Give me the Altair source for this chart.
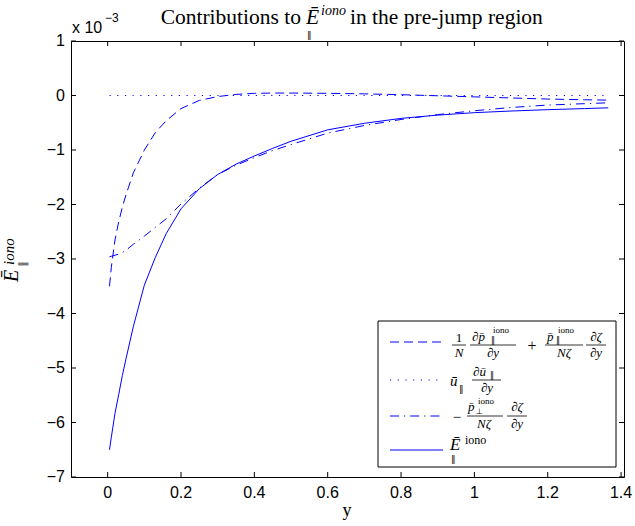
import altair as alt
import pandas as pd

# ---------------- data (values in units of 1e-3) ----------------
xs = [0.005, 0.01, 0.02, 0.03, 0.04, 0.05, 0.07, 0.1, 0.13, 0.16, 0.2, 0.25, 0.3,
      0.35, 0.4, 0.45, 0.5, 0.6, 0.7, 0.8, 0.9, 1.0, 1.1, 1.2, 1.3, 1.365]
dashed = [-3.5, -3.15, -2.65, -2.32, -2.05, -1.82, -1.42, -1.0, -0.68, -0.46, -0.24, -0.09, -0.02,
          0.02, 0.04, 0.045, 0.045, 0.04, 0.03, 0.015, -0.005, -0.025, -0.045, -0.065, -0.078, -0.085]
dotted = [0.0, 0.0, 0.0, 0.0, 0.0, 0.0, 0.0, 0.0, 0.0, 0.0, 0.0, 0.0, 0.0,
          0.0, 0.0, 0.0, 0.0, 0.0, 0.0, 0.0, 0.0, 0.0, 0.0, 0.0, 0.0, 0.0]
dashdot = [-2.96, -2.95, -2.93, -2.91, -2.88, -2.84, -2.73, -2.58, -2.42, -2.26, -1.99, -1.70, -1.45,
           -1.28, -1.14, -1.01, -0.90, -0.69, -0.55, -0.44, -0.35, -0.28, -0.22, -0.175, -0.15, -0.134]
solid = [-6.5, -6.27, -5.83, -5.49, -5.14, -4.83, -4.24, -3.48, -2.97, -2.53, -2.08, -1.71, -1.45,
         -1.26, -1.11, -0.97, -0.84, -0.63, -0.51, -0.42, -0.36, -0.315, -0.285, -0.26, -0.24, -0.226]
series_names = ["dpar", "udu", "pperp", "E"]
xticks = [0, 0.2, 0.4, 0.6, 0.8, 1, 1.2, 1.4]
xtick_labels = ["0", "0.2", "0.4", "0.6", "0.8", "1", "1.2", "1.4"]
yticks = [-7, -6, -5, -4, -3, -2, -1, 0, 1]
ytick_labels = ["\u22127", "\u22126", "\u22125", "\u22124", "\u22123", "\u22122", "\u22121", "0", "1"]

rows = []
for name, vals in zip(series_names, [dashed, dotted, dashdot, solid]):
    for x, v in zip(xs, vals):
        rows.append({"x": x, "v": v, "s": name})
df = pd.DataFrame(rows)

# ---------------- layout ----------------
W, H = 553, 436
OX, OY = 71, 41
BLUE = "#0000ff"
SERIF = "Liberation Serif"
SANS = "Liberation Sans"
xscale = alt.Scale(domain=[-0.1, 1.408], nice=False, zero=False)
yscale = alt.Scale(domain=[-7, 1], nice=False, zero=False)
styles = {"dpar": [9, 5], "udu": [1.2, 6.5], "pperp": [9, 5, 1.2, 5], "E": None}

layers = []
for name in series_names:
    kw = dict(color=BLUE, strokeWidth=1, clip=True)
    if styles[name]:
        kw["strokeDash"] = styles[name]
    layers.append(
        alt.Chart(df).transform_filter(alt.datum.s == name).mark_line(**kw).encode(
            x=alt.X("x:Q", scale=xscale, axis=None),
            y=alt.Y("v:Q", scale=yscale, axis=None),
        )
    )

# inward ticks on all four sides, and tick labels
xt = pd.DataFrame({"t": xticks, "lab": xtick_labels})
yt = pd.DataFrame({"t": yticks, "lab": ytick_labels})
for y0, y1 in [(H, H - 5), (0, 5)]:
    layers.append(alt.Chart(xt).mark_rule(color="black", strokeWidth=1).encode(
        x=alt.X("t:Q", scale=xscale, axis=None), y=alt.value(y0), y2=alt.value(y1)))
for x0, x1 in [(0, 5), (W, W - 5)]:
    layers.append(alt.Chart(yt).mark_rule(color="black", strokeWidth=1).encode(
        y=alt.Y("t:Q", scale=yscale, axis=None), x=alt.value(x0), x2=alt.value(x1)))
layers.append(alt.Chart(xt).mark_text(font=SANS, fontSize=16, baseline="top", align="center",
                                      color="black").encode(
    x=alt.X("t:Q", scale=xscale, axis=None), y=alt.value(H + 8), text="lab:N"))
layers.append(alt.Chart(yt).mark_text(font=SANS, fontSize=16, baseline="middle", align="right",
                                      color="black").encode(
    y=alt.Y("t:Q", scale=yscale, axis=None), x=alt.value(-6), text="lab:N"))

one = pd.DataFrame({"a": [0]})


def txt(s, x, y, size=13, italic=False, align="center", baseline="middle", angle=0, font=SERIF):
    kw = dict(text=s, fontSize=size, font=font, fontStyle="italic" if italic else "normal",
              align=align, baseline=baseline, color="black")
    if angle:
        kw["angle"] = angle
    return alt.Chart(one).mark_text(**kw).encode(x=alt.value(x - OX), y=alt.value(y - OY))


def par(x, y, size=10, align="left", baseline="middle", angle=0):
    # double vertical bar subscript, drawn with DejaVu Sans (which has the glyph)
    return txt("\u2016", x, y, size=size, align=align, baseline=baseline, angle=angle,
               font="DejaVu Sans")


def bar(x1, x2, y):
    return alt.Chart(one).mark_rule(color="black", strokeWidth=0.8).encode(
        x=alt.value(x1 - OX), x2=alt.value(x2 - OX), y=alt.value(y - OY))


def sample(y, dash):
    kw = dict(color=BLUE, strokeWidth=1)
    if dash:
        kw["strokeDash"] = dash
    return alt.Chart(one).mark_rule(**kw).encode(
        x=alt.value(390 - OX), x2=alt.value(443 - OX), y=alt.value(y - OY))


# legend box
layers.append(alt.Chart(one).mark_rect(fill="white", stroke="black", strokeWidth=1).encode(
    x=alt.value(378 - OX), x2=alt.value(616 - OX), y=alt.value(321 - OY), y2=alt.value(467 - OY)))
layers += [sample(342, styles["dpar"]), sample(380, styles["udu"]),
           sample(416, styles["pperp"]), sample(450, None)]

# row 1 : 1/N dp/dy + p/(N zeta) dzeta/dy
layers += [
    txt("1", 459, 338), bar(452, 466, 345), txt("N", 459, 353, italic=True),
    txt("\u2202p\u0304", 472, 337, italic=True, align="left"),
    txt("iono", 493, 330, size=9, align="left"), par(491, 341, size=8),
    bar(470, 516, 345), txt("\u2202y", 493, 353, italic=True),
    txt("+", 532, 346, size=16),
    txt("p\u0304", 547, 337, italic=True, align="left"),
    txt("iono", 558, 330, size=9, align="left"), par(556, 341, size=8),
    bar(545, 583, 345), txt("N\u03b6", 564, 353, italic=True),
    txt("\u2202\u03b6", 596, 337, italic=True), bar(586, 606, 345), txt("\u2202y", 596, 353, italic=True),
]
# row 2 : u du/dy
layers += [
    txt("\u016b", 450, 381, size=15, italic=True, align="left"),
    par(459, 389, size=9),
    txt("\u2202\u016b", 473, 372, italic=True, align="left"),
    par(490, 376, size=8),
    bar(472, 501, 380), txt("\u2202y", 487, 388, italic=True),
]
# row 3 : - p_perp/(N zeta) dzeta/dy
layers += [
    txt("\u2212", 457, 417, size=15),
    txt("p\u0304", 468, 407, italic=True, align="left"),
    txt("iono", 478, 401, size=9, align="left"),
    txt("\u22a5", 476, 412, size=8, align="left", font="DejaVu Sans"),
    bar(467, 503, 416), txt("N\u03b6", 484, 424, italic=True),
    txt("\u2202\u03b6", 517, 407, italic=True), bar(507, 527, 416), txt("\u2202y", 517, 424, italic=True),
]
# row 4 : E
layers += [
    txt("\u0112", 450, 445, size=17, italic=True, align="left"),
    txt("iono", 465, 440, size=12, align="left"),
    par(451, 459, size=9),
]

# title
layers += [
    txt("Contributions to", 301, 24, size=21.5, align="right", baseline="alphabetic"),
    txt("\u0112", 306, 24, size=21.5, italic=True, align="left", baseline="alphabetic"),
    txt("iono", 321, 15, size=14, italic=True, align="left", baseline="alphabetic"),
    par(307, 38, size=9, baseline="alphabetic"),
    txt("in the pre-jump region", 350, 24, size=21.5, align="left", baseline="alphabetic"),
]
# exponent label
layers += [
    txt("x 10", 72, 33, size=16, align="left", baseline="alphabetic", font=SANS),
    txt("\u22123", 105, 22, size=12, align="left", baseline="alphabetic", font=SANS),
]
# axis titles
layers += [
    txt("y", 347, 516, size=18, baseline="alphabetic"),
    txt("\u0112", 12, 276, size=20, italic=True, angle=270),
    txt("iono", 9, 265, size=15, italic=True, align="left", angle=270),
    par(23, 264, size=11, align="center", angle=270),
]

chart = alt.layer(*layers).properties(
    width=W, height=H,
    autosize=alt.AutoSizeParams(type="none"),
    padding={"left": OX, "top": OY, "right": 635 - OX - W, "bottom": 526 - OY - H},
    background="white",
).configure_view(stroke="black", strokeWidth=1)

chart.save("out.html", embed_options={"renderer": "svg", "actions": False})
